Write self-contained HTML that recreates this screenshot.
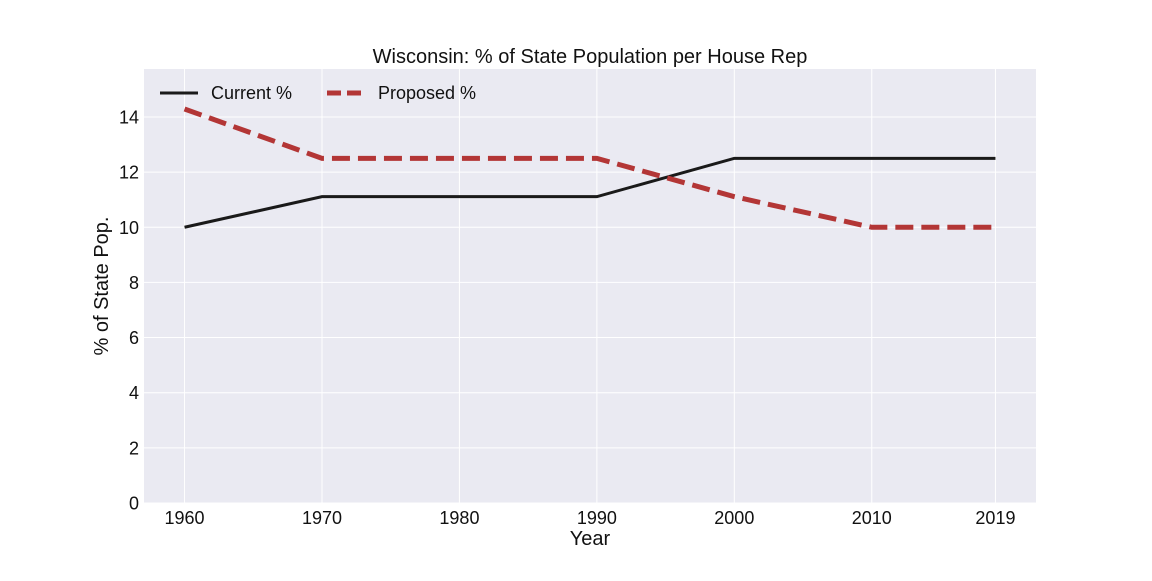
<!DOCTYPE html>
<html><head><meta charset="utf-8">
<style>
html,body{margin:0;padding:0;background:#fff;}
svg text{font-family:"Liberation Sans",Arial,sans-serif;fill:#111;}
</style></head>
<body>
<svg id="chart" width="1152" height="576" xmlns="http://www.w3.org/2000/svg"></svg>
<script>
const years = [1960, 1970, 1980, 1990, 2000, 2010, 2019];
const currentPct = [10, 11.11, 11.11, 11.11, 12.5, 12.5, 12.5];
const proposedPct = [14.29, 12.5, 12.5, 12.5, 11.11, 10, 10];
const yTicks = [0, 2, 4, 6, 8, 10, 12, 14];
const xTickLabels = ["1960","1970","1980","1990","2000","2010","2019"];

const NS = "http://www.w3.org/2000/svg";
const svg = document.getElementById('chart');
const L = 144, R = 1036, T = 69, B = 503;
const xMin = 1957.05, xMax = 2021.95, yMin = 0, yMax = 15.74;
const xs = v => L + (v - xMin) / (xMax - xMin) * (R - L);
const ys = v => B - (v - yMin) / (yMax - yMin) * (B - T);

function mk(tag, attrs, parent) {
  const e = document.createElementNS(NS, tag);
  for (const k in attrs) e.setAttribute(k, attrs[k]);
  (parent || svg).appendChild(e);
  return e;
}

const bg = mk('rect', {x: L, y: T, width: R - L, height: B - T, fill: '#eaeaf2'});



yTicks.forEach(t => {
  const g = mk('line', {x1: L, x2: R, y1: ys(t), y2: ys(t), stroke: '#fff', 'stroke-width': 1});
  
  
  const lb = mk('text', {x: L - 5, y: ys(t) + 6.5, 'text-anchor': 'end', 'font-size': 18});
  lb.textContent = t;
  
  
});
years.forEach((yr, i) => {
  const g = mk('line', {x1: xs(yr), x2: xs(yr), y1: T, y2: B, stroke: '#fff', 'stroke-width': 1});
  
  
  const lb = mk('text', {x: xs(yr), y: B + 21, 'text-anchor': 'middle', 'font-size': 18});
  lb.textContent = xTickLabels[i];
  
  
});

function series(vals, attrs, name) {
  const pts = years.map((yr, i) => xs(yr) + ',' + ys(vals[i])).join(' ');
  const p = mk('polyline', Object.assign({points: pts, fill: 'none'}, attrs));
  
  
}
series(currentPct, {stroke: '#1a1a1a', 'stroke-width': 3}, 'current-line');
series(proposedPct, {stroke: '#b33636', 'stroke-width': 5, 'stroke-dasharray': '18,8'}, 'proposed-line');

const l1 = mk('line', {x1: 160, x2: 198, y1: 93, y2: 93, stroke: '#1a1a1a', 'stroke-width': 3});


const t1 = mk('text', {x: 211, y: 99, 'font-size': 18});
t1.textContent = 'Current %';


const l2 = mk('line', {x1: 327, x2: 365, y1: 93, y2: 93, stroke: '#b33636', 'stroke-width': 5, 'stroke-dasharray': '14,6'});


const t2 = mk('text', {x: 378, y: 99, 'font-size': 18});
t2.textContent = 'Proposed %';



const title = mk('text', {x: (L + R) / 2, y: 63, 'text-anchor': 'middle', 'font-size': 20});
title.textContent = 'Wisconsin: % of State Population per House Rep';


const xt = mk('text', {x: (L + R) / 2, y: 545, 'text-anchor': 'middle', 'font-size': 20});
xt.textContent = 'Year';


const yt = mk('text', {x: 0, y: 0, 'text-anchor': 'middle', 'font-size': 20, transform: 'translate(108,' + ((T + B) / 2) + ') rotate(-90)'});
yt.textContent = '% of State Pop.';


</script>
</body></html>
